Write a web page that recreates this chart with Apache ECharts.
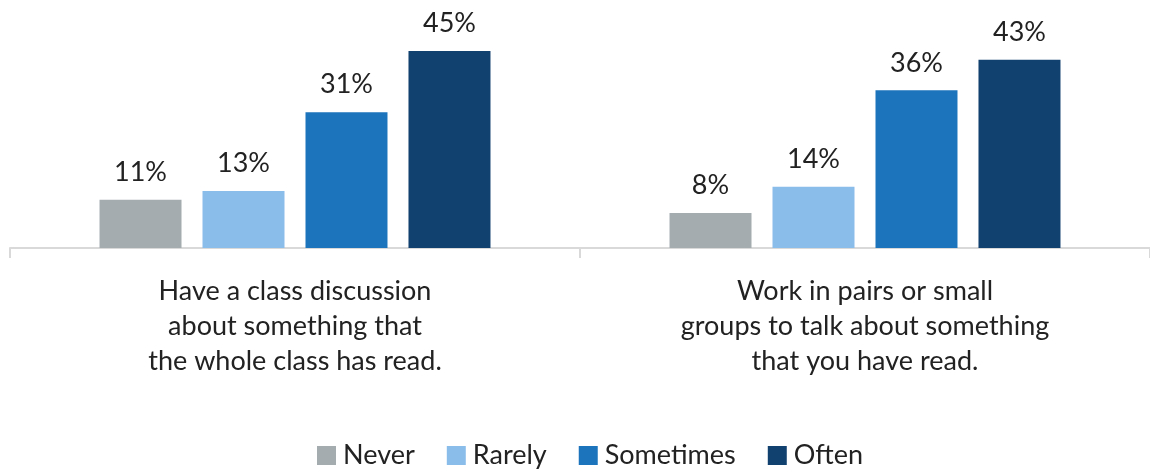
<!DOCTYPE html>
<html>
<head>
<meta charset="utf-8">
<script src="https://cdn.jsdelivr.net/npm/echarts@6/dist/echarts.min.js"></script>
<style>
html, body { margin: 0; padding: 0; background: #fff; }
#chart { width: 1150px; height: 472px; }
</style>
</head>
<body>
<div id="chart"></div>
<script>
'use strict';

var categories = [
	'Have a class discussion\nabout something that\nthe whole class has read.',
	'Work in pairs or small\ngroups to talk about something\nthat you have read.'
];
var seriesNames = ['Never', 'Rarely', 'Sometimes', 'Often'];
var never = [11, 8];
var rarely = [13, 14];
var sometimes = [31, 36];
var often = [45, 43];
var colors = ['#A5ACAF', '#8BBDEB', '#1C75BC', '#11416E'];

var myChart = echarts.init(document.getElementById('chart'));

function makeSeries(name, data, color) {
	return {
		name : name,
		type : 'bar',
		data : data,
		barWidth : 82,
		barGap : '25.6%',
		itemStyle : { color : color },
		label : {
			show : true,
			position : 'top',
			distance : 14,
			formatter : '{c}%',
			fontFamily : 'Lato',
			fontSize : 27,
			color : '#222'
		}
	};
}

var option = {
	animation : false,
	textStyle : { fontFamily : 'Lato' },
	legend : {
		top : 437,
		left : 312,
		itemWidth : 19,
		itemHeight : 19,
		itemGap : 32,
		icon : 'rect',
		textStyle : { fontSize : 27, color : '#222', fontFamily : 'Lato', padding : [0, 0, 0, 2] },
		data : seriesNames
	},
	grid : {
		left : 10,
		right : -3,
		top : 29,
		bottom : 224,
		containLabel : false
	},
	xAxis : {
		type : 'category',
		data : categories,
		axisLine : { lineStyle : { color : '#D9D9D9', width : 2 } },
		axisTick : { show : true, length : 10, lineStyle : { color : '#D9D9D9', width : 2 } },
		axisLabel : {
			margin : 26,
			fontSize : 27,
			lineHeight : 35,
			color : '#222',
			fontFamily : 'Lato'
		}
	},
	yAxis : {
		type : 'value',
		min : 0,
		max : 50,
		show : false,
		splitLine : { show : false }
	},
	series : [
		makeSeries(seriesNames[0], never, colors[0]),
		makeSeries(seriesNames[1], rarely, colors[1]),
		makeSeries(seriesNames[2], sometimes, colors[2]),
		makeSeries(seriesNames[3], often, colors[3])
	]
};
myChart.setOption(option);
</script>
</body>
</html>
